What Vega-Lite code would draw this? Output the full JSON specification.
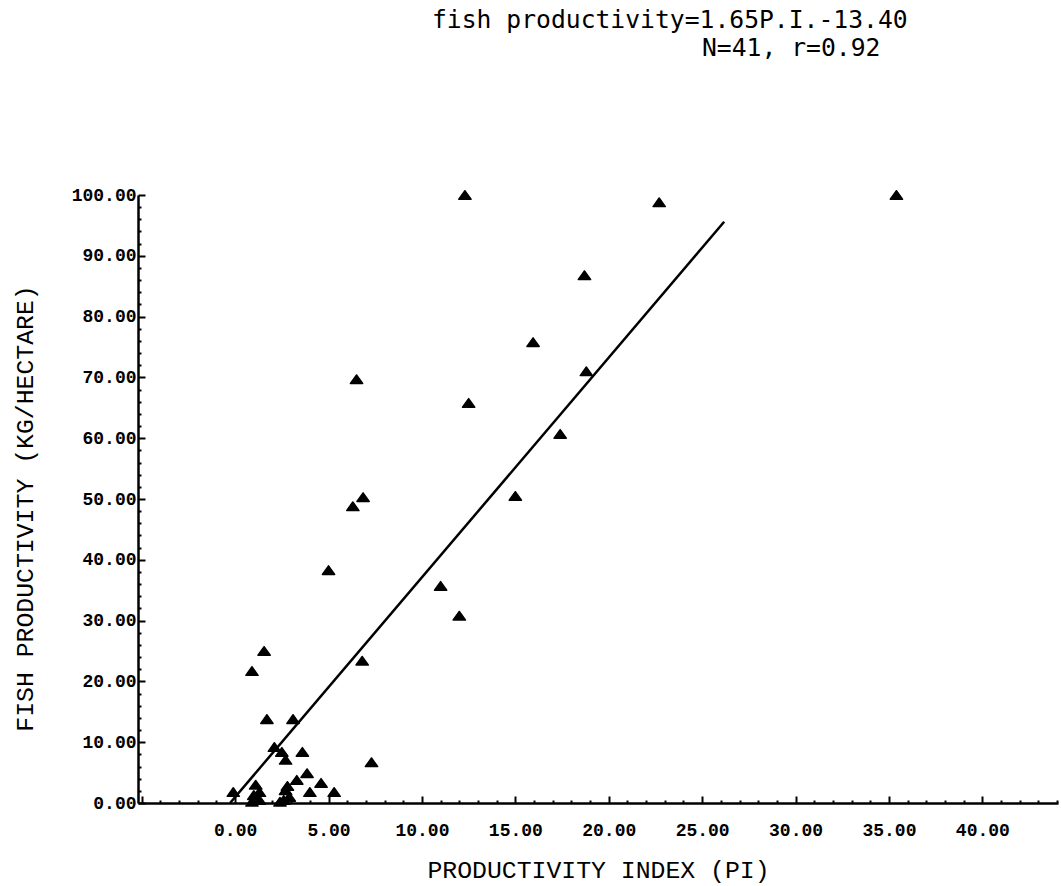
{
  "$schema": "https://vega.github.io/schema/vega-lite/v6.json",
  "width": 920,
  "height": 608,
  "autosize": {"type": "none"},
  "padding": {"left": 138, "top": 195, "right": 3, "bottom": 83},
  "background": "white",
  "title": {
    "text": ["fish productivity=1.65P.I.-13.40", "\u2800\u2800\u2800\u2800\u2800\u2800\u2800\u2800\u2800\u2800\u2800\u2800\u2800\u2800\u2800N=41, r=0.92"],
    "anchor": "start",
    "frame": "group",
    "dx": 294,
    "offset": 125,
    "font": "DejaVu Sans Mono",
    "fontSize": 24.7,
    "fontWeight": "normal",
    "color": "black",
    "lineHeight": 28
  },
  "datasets": {
    "points": [
      {"pi": 12.3, "fp": 100},
      {"pi": 22.7, "fp": 98.8},
      {"pi": 35.4, "fp": 100},
      {"pi": 18.7, "fp": 86.8},
      {"pi": 15.95, "fp": 75.8},
      {"pi": 18.8, "fp": 71.0},
      {"pi": 6.5, "fp": 69.7},
      {"pi": 12.5, "fp": 65.8},
      {"pi": 17.4, "fp": 60.7},
      {"pi": 6.85, "fp": 50.3},
      {"pi": 6.3, "fp": 48.8},
      {"pi": 15.0, "fp": 50.5},
      {"pi": 5.0, "fp": 38.3},
      {"pi": 11.0, "fp": 35.7},
      {"pi": 12.0, "fp": 30.8},
      {"pi": 1.55, "fp": 25.0},
      {"pi": 6.8, "fp": 23.4},
      {"pi": 0.9, "fp": 21.7},
      {"pi": 1.7, "fp": 13.8},
      {"pi": 3.1, "fp": 13.8},
      {"pi": 2.1, "fp": 9.2},
      {"pi": 2.5, "fp": 8.4},
      {"pi": 2.7, "fp": 7.1},
      {"pi": 3.6, "fp": 8.4},
      {"pi": 7.3, "fp": 6.7},
      {"pi": 3.85, "fp": 4.9},
      {"pi": 3.3, "fp": 3.8},
      {"pi": 4.6, "fp": 3.3},
      {"pi": 4.0, "fp": 1.8},
      {"pi": 5.3, "fp": 1.8},
      {"pi": -0.1, "fp": 1.8},
      {"pi": 1.1, "fp": 3.0},
      {"pi": 1.0, "fp": 1.3},
      {"pi": 0.9, "fp": 0.2},
      {"pi": 1.3, "fp": 0.5},
      {"pi": 2.7, "fp": 2.1},
      {"pi": 2.6, "fp": 0.5},
      {"pi": 2.9, "fp": 1.0},
      {"pi": 2.4, "fp": 0.2},
      {"pi": 1.3, "fp": 1.8},
      {"pi": 2.8, "fp": 2.8}
    ],
    "fit": [
      {"pi": -0.27, "fp": 0},
      {"pi": 26.18, "fp": 95.6}
    ]
  },
  "encoding": {
    "x": {
      "field": "pi",
      "type": "quantitative",
      "scale": {"domain": [-5.2, 44.05], "nice": false, "zero": false},
      "axis": {
        "title": "PRODUCTIVITY INDEX (PI)",
        "values": [-5,-4,-3,-2,-1,0,1,2,3,4,5,6,7,8,9,10,11,12,13,14,15,16,17,18,19,20,21,22,23,24,25,26,27,28,29,30,31,32,33,34,35,36,37,38,39,40,41,42,43,44],
        "labelExpr": "(datum.value % 5 === 0 && datum.value >= 0 && datum.value <= 40) ? format(datum.value, '.2f') : ''",
        "tickSize": {"condition": {"test": "datum.value % 5 === 0", "value": -7}, "value": -3},
        "labelPadding": 25,
        "labelOverlap": false,
        "labelFlush": false,
        "labelFont": "Liberation Mono",
        "labelFontSize": 18,
        "labelFontWeight": "bold",
        "labelColor": "black",
        "titleFont": "Liberation Mono",
        "titleFontSize": 24.8,
        "titleFontWeight": "normal",
        "titleColor": "black",
        "titleX": 460,
        "titleY": 67,
        "titleBaseline": "middle"
      }
    },
    "y": {
      "field": "fp",
      "type": "quantitative",
      "scale": {"domain": [0, 100], "nice": false, "zero": false},
      "axis": {
        "title": "FISH PRODUCTIVITY (KG/HECTARE)",
        "values": [0,2,4,6,8,10,12,14,16,18,20,22,24,26,28,30,32,34,36,38,40,42,44,46,48,50,52,54,56,58,60,62,64,66,68,70,72,74,76,78,80,82,84,86,88,90,92,94,96,98,100],
        "labelExpr": "datum.value % 10 === 0 ? format(datum.value, '.2f') : ''",
        "tickSize": {"condition": {"test": "datum.value % 10 === 0", "value": -7}, "value": -3},
        "labelPadding": 9,
        "labelOverlap": false,
        "labelFlush": false,
        "labelFont": "Liberation Mono",
        "labelFontSize": 18,
        "labelFontWeight": "bold",
        "labelColor": "black",
        "titleFont": "Liberation Mono",
        "titleFontSize": 24.8,
        "titleFontWeight": "normal",
        "titleColor": "black",
        "titleAngle": 270,
        "titleX": -113,
        "titleY": 313,
        "titleBaseline": "middle",
        "titleAlign": "center"
      }
    }
  },
  "layer": [
    {
      "data": {"name": "fit"},
      "mark": {"type": "line", "color": "black", "strokeWidth": 2.5}
    },
    {
      "data": {"name": "points"},
      "mark": {"type": "point", "shape": "M-1,0.7L0,-0.7L1,0.7Z", "filled": true, "color": "black", "stroke": "black", "strokeWidth": 1.5, "strokeJoin": "round", "opacity": 1, "size": 150}
    }
  ],
  "config": {
    "view": {"stroke": null},
    "axis": {
      "grid": false,
      "domainColor": "black",
      "domainWidth": 2.5,
      "tickColor": "black",
      "tickWidth": 2
    }
  }
}
